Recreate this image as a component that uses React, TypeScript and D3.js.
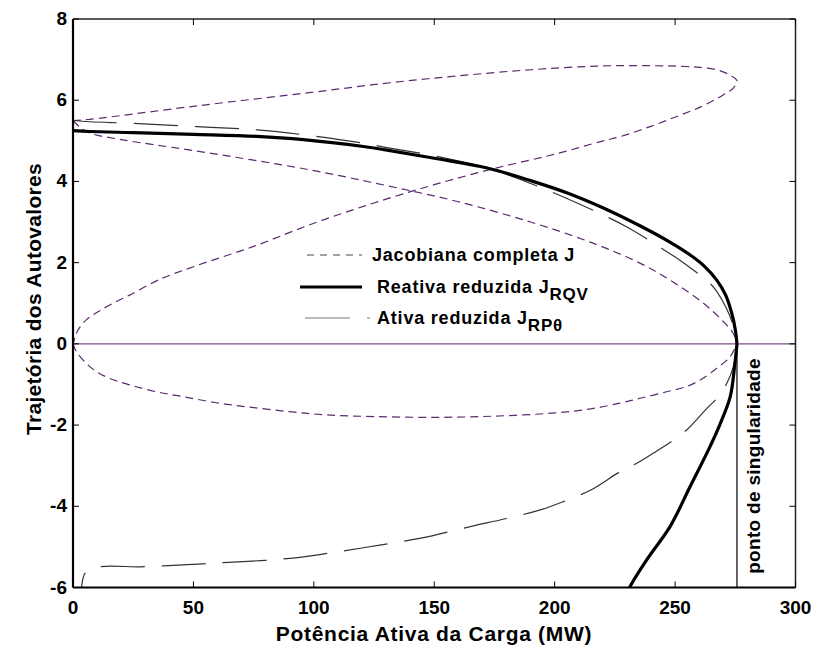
import React from "react";
import * as d3 from "d3";

type P = [number, number];

// X ticks / Y ticks
const xTicks = [0, 50, 100, 150, 200, 250, 300];
const yTicks = [-6, -4, -2, 0, 2, 4, 6, 8];

// Jacobiana completa J (purple dashed) — upper arc from (0,5.5) to turning point and back to (0,0)
const jacUpperArc: P[] = [
  [0, 5.5], [7, 5.53], [50, 5.85], [100, 6.2], [131.6, 6.43], [160, 6.6], [190, 6.75],
  [217.6, 6.84], [240, 6.85], [254.8, 6.83], [260.4, 6.81], [267.3, 6.75], [272.8, 6.62],
  [275.7, 6.48], [274.2, 6.3], [270, 6.13], [260.4, 5.83], [250.7, 5.6], [239.6, 5.35],
  [227.1, 5.1], [220.2, 5.0], [200, 4.67], [175, 4.32], [150, 3.92], [125, 3.47], [100, 2.97],
  [75, 2.4], [50, 1.9], [35.3, 1.57], [23.5, 1.2], [16.6, 1.0], [10.4, 0.79], [5.5, 0.59],
  [2.1, 0.34], [0, 0],
];
// lower loop from (0,0) to singular point
const jacLowerLoop: P[] = [
  [0, 0], [1.4, -0.19], [5.5, -0.48], [9.7, -0.68], [15.2, -0.85], [23.5, -1.01], [34.6, -1.18],
  [45.7, -1.3], [59.5, -1.45], [73.4, -1.56], [90, -1.67], [105.2, -1.75], [125, -1.79],
  [150, -1.81], [175, -1.78], [200, -1.7], [215, -1.6], [227.1, -1.46], [235.5, -1.34],
  [246.5, -1.18], [254.8, -1.05], [260.4, -0.89], [267.3, -0.6], [272.8, -0.32], [275.7, 0],
];
// descending branch from (0,5.5) to singular point
const jacDescending: P[] = [
  [0, 5.5], [3, 5.33], [7, 5.19], [20, 5.03], [50, 4.76], [97, 4.3], [130, 3.9], [160, 3.5],
  [190, 3.0], [215, 2.5], [235, 2.0], [247.9, 1.57], [261.8, 1.0], [270, 0.55], [274.1, 0.26],
  [275.7, 0],
];

// Reativa reduzida J_RQV (thick black)
const rqvUpper: P[] = [
  [0, 5.25], [7, 5.23], [25, 5.2], [50, 5.16], [76.3, 5.11], [95.6, 5.03], [120.6, 4.86],
  [131.6, 4.76], [150, 4.57], [172, 4.33], [190, 4.02], [205, 3.72], [220, 3.35], [235, 2.92],
  [248, 2.5], [256, 2.2], [262, 1.92], [267.3, 1.57], [271, 1.2], [273.5, 0.76], [275, 0.35],
  [275.7, 0],
];
const rqvLower: P[] = [
  [275.7, 0], [274.8, -0.5], [272.9, -1.3], [268.5, -2.0], [264.5, -2.53], [256.2, -3.52],
  [247.9, -4.5], [238.2, -5.32], [231.3, -5.98], [230.5, -6.1],
];

// Ativa reduzida J_RPθ (thin long dash)
const rptUpper: P[] = [
  [0, 5.5], [7, 5.47], [25, 5.43], [51.4, 5.35], [76.3, 5.27], [95.6, 5.15], [120.6, 4.94],
  [131.6, 4.82], [150, 4.63], [172, 4.33], [190, 3.95], [210, 3.45], [230, 2.88], [245, 2.33],
  [252, 2.06], [258, 1.8], [263, 1.57], [266.6, 1.35], [269.5, 1.08], [272.5, 0.72],
  [274.5, 0.35], [275.7, 0],
];
const rptLower: P[] = [
  [275.7, 0], [274.2, -0.56], [271.5, -0.97], [267.3, -1.34], [263, -1.6], [254.8, -2.12],
  [249.3, -2.37], [241, -2.69], [234.1, -2.94], [227.1, -3.15], [215, -3.6], [205, -3.85],
  [194, -4.09], [180, -4.3], [165, -4.5], [145, -4.78], [128, -4.95], [110, -5.12], [95, -5.25],
  [80, -5.33], [61, -5.39], [54, -5.42], [35, -5.47], [28, -5.49], [10, -5.5], [5, -5.65],
  [3.5, -6.0], [2.8, -6.3],
];

const singularX = 275.7;

const W = 817;
const H = 649;
const left = 73;
const right = 795.5;
const top = 19;
const bottom = 587.5;

export default function App() {
  const x = d3.scaleLinear().domain([0, 300]).range([left, right]);
  const y = d3.scaleLinear().domain([-6, 8]).range([bottom, top]);
  const line = d3
    .line<P>()
    .x((d) => x(d[0]))
    .y((d) => y(d[1]))
    .curve(d3.curveCatmullRom.alpha(0.5));

  const purple = "#5a2a6e";
  const font = "'Liberation Sans', Arial, Helvetica, sans-serif";
  const tickLen = 6;

  return (
    <svg
      width={W}
      height={H}
      style={{ position: "absolute", left: 0, top: 0, background: "#fff" }}
      fontFamily={font}
    >
      <defs>
        <clipPath id="plotclip">
          <rect x={left} y={top} width={right - left} height={bottom - top} />
        </clipPath>
      </defs>

      <g clipPath="url(#plotclip)">
        {/* zero line */}
        <line x1={x(0)} x2={x(300)} y1={y(0)} y2={y(0)} stroke="#7a4f8a" strokeWidth={1.2} />
        {/* singularity line */}
        <line x1={x(singularX)} x2={x(singularX)} y1={y(0)} y2={y(-6)} stroke="#000" strokeWidth={1.2} />

        {[jacUpperArc, jacLowerLoop, jacDescending].map((d, i) => (
          <path key={"j" + i} d={line(d) || ""} fill="none" stroke={purple} strokeWidth={1.2} strokeDasharray="8,5" />
        ))}
        {[rptUpper, rptLower].map((d, i) => (
          <path key={"p" + i} d={line(d) || ""} fill="none" stroke="#333" strokeWidth={1.2} strokeDasharray="44,17" />
        ))}
        {[rqvUpper, rqvLower].map((d, i) => (
          <path key={"r" + i} d={line(d) || ""} fill="none" stroke="#000" strokeWidth={3.2} />
        ))}
      </g>

      {/* axes box */}
      <line x1={left} x2={right} y1={top} y2={top} stroke="#222" strokeWidth={1.5} />
      <line x1={right} x2={right} y1={top} y2={bottom} stroke="#222" strokeWidth={1.5} />
      <line x1={left} x2={left} y1={top} y2={bottom} stroke="#000" strokeWidth={2.2} />
      <line x1={left} x2={right} y1={bottom} y2={bottom} stroke="#000" strokeWidth={2.2} />

      {xTicks.map((t) => (
        <g key={"xt" + t}>
          <line x1={x(t)} x2={x(t)} y1={bottom} y2={bottom - tickLen} stroke="#000" strokeWidth={1} />
          <line x1={x(t)} x2={x(t)} y1={top} y2={top + tickLen} stroke="#000" strokeWidth={1} />
          <text x={x(t)} y={614} textAnchor="middle" fontSize={19} fontWeight="bold">
            {t}
          </text>
        </g>
      ))}
      {yTicks.map((t) => (
        <g key={"yt" + t}>
          <line x1={left} x2={left + tickLen} y1={y(t)} y2={y(t)} stroke="#000" strokeWidth={1} />
          <line x1={right} x2={right - tickLen} y1={y(t)} y2={y(t)} stroke="#000" strokeWidth={1} />
          <text x={67} y={y(t) + 6} textAnchor="end" fontSize={19} fontWeight="bold">
            {t}
          </text>
        </g>
      ))}

      {/* axis labels */}
      <text x={434} y={641} textAnchor="middle" fontSize={21} fontWeight="bold" letterSpacing={0.7}>
        Potência Ativa da Carga (MW)
      </text>
      <text
        transform={`translate(41,${299}) rotate(-90)`}
        textAnchor="middle"
        fontSize={21}
        fontWeight="bold"
        letterSpacing={0.3}
      >
        Trajetória dos Autovalores
      </text>

      {/* singularity annotation */}
      <text
        transform={`translate(760,${466}) rotate(-90)`}
        textAnchor="middle"
        fontSize={19}
        fontWeight="bold"
        letterSpacing={0.3}
      >
        ponto de singularidade
      </text>

      {/* legend */}
      <g fontSize={18} fontWeight="bold" letterSpacing={0.8}>
        <line x1={307} x2={362} y1={255} y2={255} stroke="#444" strokeWidth={1} strokeDasharray="7,6" />
        <text x={372} y={261}>Jacobiana completa J</text>

        <line x1={300} x2={362} y1={287} y2={287} stroke="#000" strokeWidth={3.2} />
        <text x={377} y={293}>
          Reativa reduzida{"  "}J
          <tspan dy={7} fontSize={17}>RQV</tspan>
        </text>

        <line x1={305} x2={370} y1={318} y2={318} stroke="#777" strokeWidth={1.2} strokeDasharray="45,17" />
        <text x={377} y={324}>
          Ativa reduzida{"  "}J
          <tspan dy={7} fontSize={17}>RPθ</tspan>
        </text>
      </g>
    </svg>
  );
}
